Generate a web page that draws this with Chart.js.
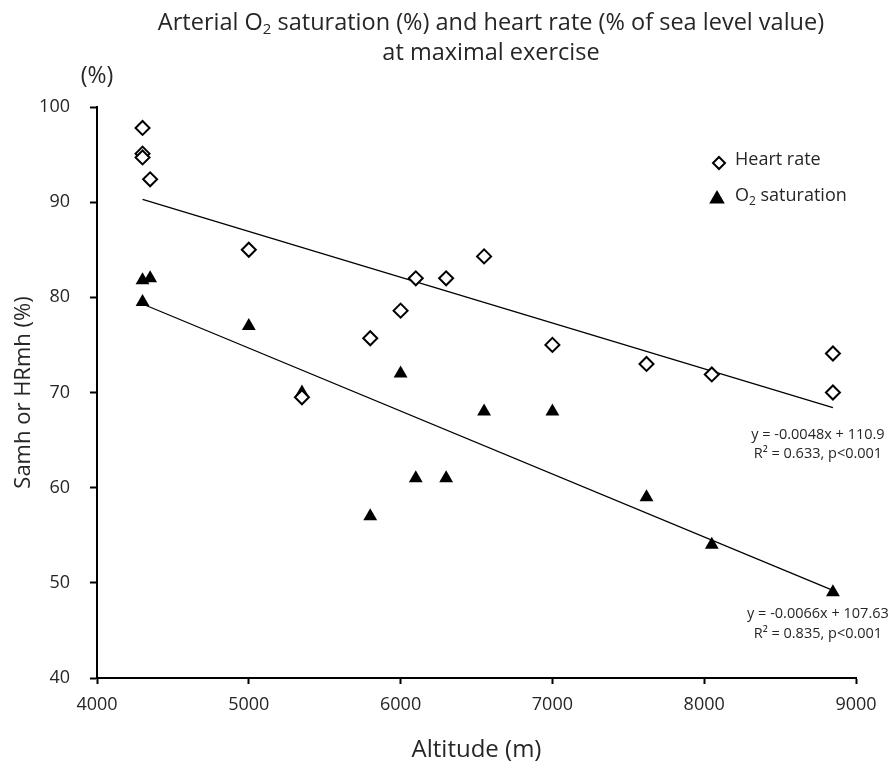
<!DOCTYPE html>
<html>
<head>
<meta charset="utf-8">
<script src="https://cdn.jsdelivr.net/npm/chart.js@4.4.1/dist/chart.umd.min.js"></script>
<style>
  html, body { margin: 0; padding: 0; background: #fff; }
  #wrap { width: 888px; height: 765px; }
</style>
</head>
<body>
<div id="wrap"><canvas id="myChart" width="888" height="765"></canvas></div>
<script>
// Heart rate (% of sea level value) at each altitude
const hrAltitude = [4300, 4300, 4300, 4350, 5000, 5350, 5800, 6000, 6100, 6300, 6550, 7000, 7620, 8050, 8848, 8848];
const hrValues   = [97.8, 95.1, 94.7, 92.4, 85.0, 69.5, 75.7, 78.6, 82.0, 82.0, 84.3, 75.0, 73.0, 71.9, 74.1, 70.0];

// Arterial O2 saturation (%) at each altitude
const o2Altitude = [4300, 4350, 4300, 5000, 5350, 5800, 6000, 6100, 6300, 6550, 7000, 7620, 8050, 8848];
const o2Values   = [81.8, 82.0, 79.5, 77.0, 70.0, 57.0, 72.0, 61.0, 61.0, 68.0, 68.0, 59.0, 54.0, 49.0];

// Regression line end points as drawn
const hrFitX = [4300, 8848];
const hrFitY = [90.3, 68.4];
const o2FitX = [4300, 8848];
const o2FitY = [79.3, 49.2];

const xTicks = [4000, 5000, 6000, 7000, 8000, 9000];
const yTicks = [40, 50, 60, 70, 80, 90, 100];

const hrEquation = ["y = -0.0048x + 110.9", "R\u00b2 = 0.633, p<0.001"];
const o2Equation = ["y = -0.0066x + 107.63", "R\u00b2 = 0.835, p<0.001"];

const FONT = "'Open Sans', sans-serif";
const TEXT = '#262626';

const toPoints = (xs, ys) => xs.map((x, i) => ({ x: x, y: ys[i] }));

function diamond(ctx, x, y, r) {
  ctx.beginPath();
  ctx.moveTo(x, y - r);
  ctx.lineTo(x + r, y);
  ctx.lineTo(x, y + r);
  ctx.lineTo(x - r, y);
  ctx.closePath();
  ctx.fillStyle = '#fff';
  ctx.fill();
  ctx.lineWidth = 2;
  ctx.strokeStyle = '#000';
  ctx.stroke();
}

function triangle(ctx, x, y, r) {
  const h = r * 1.5;
  const s = r * Math.sqrt(3) / 2;
  ctx.beginPath();
  ctx.moveTo(x, y - h * 2 / 3);
  ctx.lineTo(x + s, y + h / 3);
  ctx.lineTo(x - s, y + h / 3);
  ctx.closePath();
  ctx.fillStyle = '#000';
  ctx.fill();
}

// text with a subscript "2" after the given prefix
function subText(ctx, pre, sub, post, x, y, size, align) {
  ctx.font = size + 'px ' + FONT;
  const w1 = ctx.measureText(pre).width;
  const w3 = ctx.measureText(post).width;
  ctx.font = Math.round(size * 0.65) + 'px ' + FONT;
  const w2 = ctx.measureText(sub).width;
  const total = w1 + w2 + w3;
  let left = x;
  if (align === 'center') left = x - total / 2;
  ctx.textAlign = 'left';
  ctx.textBaseline = 'middle';
  ctx.fillStyle = TEXT;
  ctx.font = size + 'px ' + FONT;
  ctx.fillText(pre, left, y);
  ctx.font = Math.round(size * 0.65) + 'px ' + FONT;
  ctx.fillText(sub, left + w1, y + size * 0.3);
  ctx.font = size + 'px ' + FONT;
  ctx.fillText(post, left + w1 + w2, y);
}

const extras = {
  id: 'extras',
  afterDraw(chart) {
    const ctx = chart.ctx;
    const xs = chart.scales.x;
    const ys = chart.scales.y;
    ctx.save();

    // title
    subText(ctx, 'Arterial O', '2', ' saturation (%) and heart rate (% of sea level value)', 491, 23, 23.5, 'center');
    ctx.font = '23.5px ' + FONT;
    ctx.textAlign = 'center';
    ctx.textBaseline = 'middle';
    ctx.fillStyle = TEXT;
    ctx.fillText('at maximal exercise', 491, 53);

    // unit above the y axis
    ctx.font = '23px ' + FONT;
    ctx.fillText('(%)', 97, 76);

    // legend
    diamond(ctx, 719, 163, 6);
    triangle(ctx, 717, 199, 9);
    ctx.font = '18px ' + FONT;
    ctx.textAlign = 'left';
    ctx.fillStyle = TEXT;
    ctx.fillText('Heart rate', 735, 160);
    subText(ctx, 'O', '2', ' saturation', 735, 196, 18, 'left');

    // regression equations, anchored below the last point of each fit
    ctx.font = '14.5px ' + FONT;
    ctx.textAlign = 'center';
    ctx.fillStyle = TEXT;
    const cx = xs.getPixelForValue(8848) - 15;
    const hy = ys.getPixelForValue(hrFitY[1]);
    ctx.fillText(hrEquation[0], cx, hy + 27);
    ctx.fillText(hrEquation[1], cx, hy + 46);
    const oy = ys.getPixelForValue(o2FitY[1]);
    ctx.fillText(o2Equation[0], cx, oy + 23);
    ctx.fillText(o2Equation[1], cx, oy + 43);

    ctx.restore();
  }
};

new Chart('myChart', {
  type: 'scatter',
  data: {
    datasets: [
      {
        label: 'Heart rate',
        data: toPoints(hrAltitude, hrValues),
        pointStyle: 'rectRot',
        pointRadius: 7,
        pointBackgroundColor: '#fff',
        pointBorderColor: '#000',
        pointBorderWidth: 2,
        order: 1
      },
      {
        label: 'O2 saturation',
        data: toPoints(o2Altitude, o2Values),
        pointStyle: 'triangle',
        pointRadius: 8,
        pointBackgroundColor: '#000',
        pointBorderColor: '#000',
        pointBorderWidth: 0,
        order: 1
      },
      {
        label: 'hr fit',
        data: toPoints(hrFitX, hrFitY),
        showLine: true,
        borderColor: '#000',
        borderWidth: 1.3,
        pointRadius: 0,
        order: 2
      },
      {
        label: 'o2 fit',
        data: toPoints(o2FitX, o2FitY),
        showLine: true,
        borderColor: '#000',
        borderWidth: 1.3,
        pointRadius: 0,
        order: 2
      }
    ]
  },
  options: {
    responsive: false,
    animation: false,
    layout: { padding: { top: 107, right: 32, left: 0, bottom: 0 } },
    plugins: {
      legend: { display: false },
      title: { display: false },
      tooltip: { enabled: false }
    },
    scales: {
      x: {
        type: 'linear',
        min: 4000,
        max: 9000,
        afterBuildTicks: (scale) => { scale.ticks = xTicks.map(v => ({ value: v })); },
        afterFit: (scale) => { scale.height = 87; },
        grid: { drawOnChartArea: false, drawTicks: true, tickLength: 6, tickWidth: 2, tickColor: '#000' },
        border: { color: '#000', width: 2 },
        ticks: { font: { family: FONT, size: 18 }, color: TEXT, padding: 10, maxRotation: 0, callback: (v) => String(v) },
        title: { display: true, text: 'Altitude (m)', font: { family: FONT, size: 24 }, color: TEXT, padding: 0 }
      },
      y: {
        type: 'linear',
        min: 40,
        max: 100,
        afterBuildTicks: (scale) => { scale.ticks = yTicks.map(v => ({ value: v })); },
        afterFit: (scale) => { scale.width = 97; },
        grid: { drawOnChartArea: false, drawTicks: true, tickLength: 7, tickWidth: 2, tickColor: '#000' },
        border: { color: '#000', width: 2 },
        ticks: { font: { family: FONT, size: 18 }, color: TEXT, padding: 20, callback: (v) => String(v) },
        title: { display: true, text: 'Samh or HRmh (%)', font: { family: FONT, size: 22 }, color: TEXT, padding: 11 }
      }
    }
  },
  plugins: [extras]
});
</script>
</body>
</html>
